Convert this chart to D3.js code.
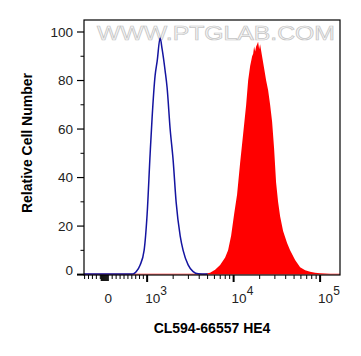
<!DOCTYPE html>
<html><head><meta charset="utf-8">
<script src="https://cdn.jsdelivr.net/npm/d3@7"></script>
<style>body{margin:0;background:#fff}svg{display:block}</style>
</head><body>
<svg id="c" width="361" height="356"></svg>
<script>
// Histogram data: x in log10 display units (biexponential axis), y = % of max
const blueX = [2.27, 2.80, 2.838, 2.873, 2.919, 2.965, 3.0, 3.035, 3.058, 3.092, 3.116, 3.150, 3.173, 3.208, 3.231, 3.266, 3.301, 3.335, 3.382, 3.416, 3.474, 3.532, 3.590, 3.70];
const blueY = [0.2, 0.2, 0.3, 1.2, 4, 10, 25, 50, 65, 82, 88, 97.5, 93, 84, 77, 60, 47, 30, 16, 10, 4, 1.2, 0.3, 0.2];
const redX = [2.27, 3.60, 3.671, 3.728, 3.786, 3.844, 3.902, 3.936, 3.971, 4.006, 4.040, 4.075, 4.110, 4.145, 4.168, 4.191, 4.203, 4.214, 4.226, 4.237, 4.249, 4.260, 4.272, 4.283, 4.295, 4.306, 4.329, 4.353, 4.376, 4.399, 4.422, 4.445, 4.468, 4.491, 4.514, 4.538, 4.572, 4.618, 4.653, 4.711, 4.769, 4.827, 4.884, 4.942, 5.0, 5.058, 5.116, 5.185, 5.231];
const redY = [0.3, 0.3, 0.4, 0.8, 2, 4, 7, 10, 16, 25, 33, 46, 58, 70, 80, 86, 88, 90, 91, 94, 92, 94, 95, 96, 93, 95, 90, 85, 80, 76, 70, 63, 52, 38, 30, 24, 18, 13, 10, 6, 3, 1.8, 1.2, 0.8, 0.6, 0.5, 0.4, 0.3, 0.3];

const yTicks = [0, 20, 40, 60, 80, 100];
const yMinor = [10, 30, 50, 70, 90];
const xMajor = [1000, 10000, 100000];
const xMajorExp = ["3", "4", "5"];
const xZeroLabel = "0";
const xMinorLin = [-600, -500, -400, -300, -200, 100, 200, 300, 400, 500, 600, 700, 800, 900];
const xCluster = [-175, -150, -125, -100, -75, -50, -25, 0];
const xMinorLog = [2000,3000,4000,5000,6000,7000,8000,9000,20000,30000,40000,50000,60000,70000,80000,90000];
const xTitle = "CL594-66557 HE4";
const yTitle = "Relative Cell Number";
const watermark = "WWW.PTGLAB.COM";

// biexponential display transform (intensity -> log10 display units)
function disp(v){
  if (v >= 1000) return Math.log10(v);
  return 2.55 + 0.45 * Math.asinh(v/3000) / Math.asinh(1/3);
}

const L = 84, R = 340, T = 20, B = 275;
const x = d3.scaleLinear().domain([2.27, 5.23]).range([L, R]);
const y = d3.scaleLinear().domain([0, 100]).range([274.6, 32]);

const svg = d3.select("#c");
const font = "'Liberation Sans', Arial, sans-serif";

// watermark
svg.append("text").attr("x", 97).attr("y", 40)
  .attr("textLength", 238).attr("lengthAdjust", "spacingAndGlyphs")
  .attr("font-family", font).attr("font-size", 20)
  .attr("fill", "#f6f6f6").attr("stroke", "#c4c4c4").attr("stroke-width", 0.7)
  .text(watermark);

// red filled histogram
const area = d3.area().x((d,i)=>x(redX[i])).y0(y(0)).y1((d,i)=>y(d)).curve(d3.curveLinear);
svg.append("path").datum(redY).attr("d", area).attr("fill", "#ff0000");

// blue line histogram
const line = d3.line().x((d,i)=>x(blueX[i])).y(d=>y(d)).curve(d3.curveMonotoneX);
svg.append("path").datum(blueY).attr("d", line)
  .attr("fill", "none").attr("stroke", "#1414a0").attr("stroke-width", 1.5);

// frame
svg.append("rect").attr("x", L).attr("y", T).attr("width", R-L).attr("height", B-T)
  .attr("fill", "none").attr("stroke", "#000").attr("stroke-width", 1.2);

// y axis
const yAxis = svg.append("g").attr("transform", `translate(${L},0)`);
yAxis.selectAll("line.maj").data(yTicks).join("line")
  .attr("x1", -7).attr("x2", 0).attr("y1", d=>y(d)).attr("y2", d=>y(d))
  .attr("stroke", "#000").attr("stroke-width", d=>d===0?2:1.2);
yAxis.selectAll("line.min").data(yMinor).join("line").attr("class","min")
  .attr("x1", -3.5).attr("x2", 0).attr("y1", d=>y(d)).attr("y2", d=>y(d))
  .attr("stroke", "#000").attr("stroke-width", 1);
yAxis.selectAll("text").data(yTicks).join("text")
  .attr("x", -11).attr("y", d=>y(d) + (d===0?-4:0)).attr("dy", "0.35em")
  .attr("text-anchor", "end").attr("font-family", font).attr("font-size", 13.5)
  .attr("fill", "#222").text(d=>d);

// x axis
const xAxis = svg.append("g").attr("transform", `translate(0,${B})`);
xAxis.selectAll("line.mj").data(xMajor).join("line").attr("class","mj")
  .attr("x1", d=>x(disp(d))).attr("x2", d=>x(disp(d))).attr("y1", 0).attr("y2", 7)
  .attr("stroke", "#000").attr("stroke-width", 2);
xAxis.selectAll("line.mn").data(xMinorLin.concat(xMinorLog).filter(v=>x(disp(v))>=L-4 && x(disp(v))<=R)).join("line").attr("class","mn")
  .attr("x1", d=>x(disp(d))).attr("x2", d=>x(disp(d))).attr("y1", 0).attr("y2", 4)
  .attr("stroke", "#000").attr("stroke-width", 1);
xAxis.selectAll("line.cl").data(xCluster).join("line").attr("class","cl")
  .attr("x1", d=>x(disp(d))).attr("x2", d=>x(disp(d))).attr("y1", 0).attr("y2", 6)
  .attr("stroke", "#000").attr("stroke-width", 1.2);
xAxis.append("text").attr("x", x(disp(0))).attr("y", 28)
  .attr("text-anchor", "middle").attr("font-family", font).attr("font-size", 13.5)
  .attr("fill", "#222").text(xZeroLabel);
const lab = xAxis.selectAll("text.mj").data(xMajor).join("text").attr("class","mj")
  .attr("x", d=>x(disp(d)) - 2).attr("y", 28)
  .attr("font-family", font).attr("font-size", 13.5).attr("fill", "#222");
lab.append("tspan").text("10");
lab.append("tspan").attr("dy", -8).attr("font-size", 12).text((d,i)=>xMajorExp[i]);

// titles
svg.append("text").attr("x", (L+R)/2).attr("y", 333).attr("text-anchor", "middle")
  .attr("font-family", font).attr("font-size", 14).attr("font-weight", "bold").text(xTitle);
svg.append("text").attr("transform", "translate(32,143) rotate(-90)").attr("text-anchor", "middle")
  .attr("font-family", font).attr("font-size", 14).attr("font-weight", "bold").text(yTitle);
</script>
</body></html>
